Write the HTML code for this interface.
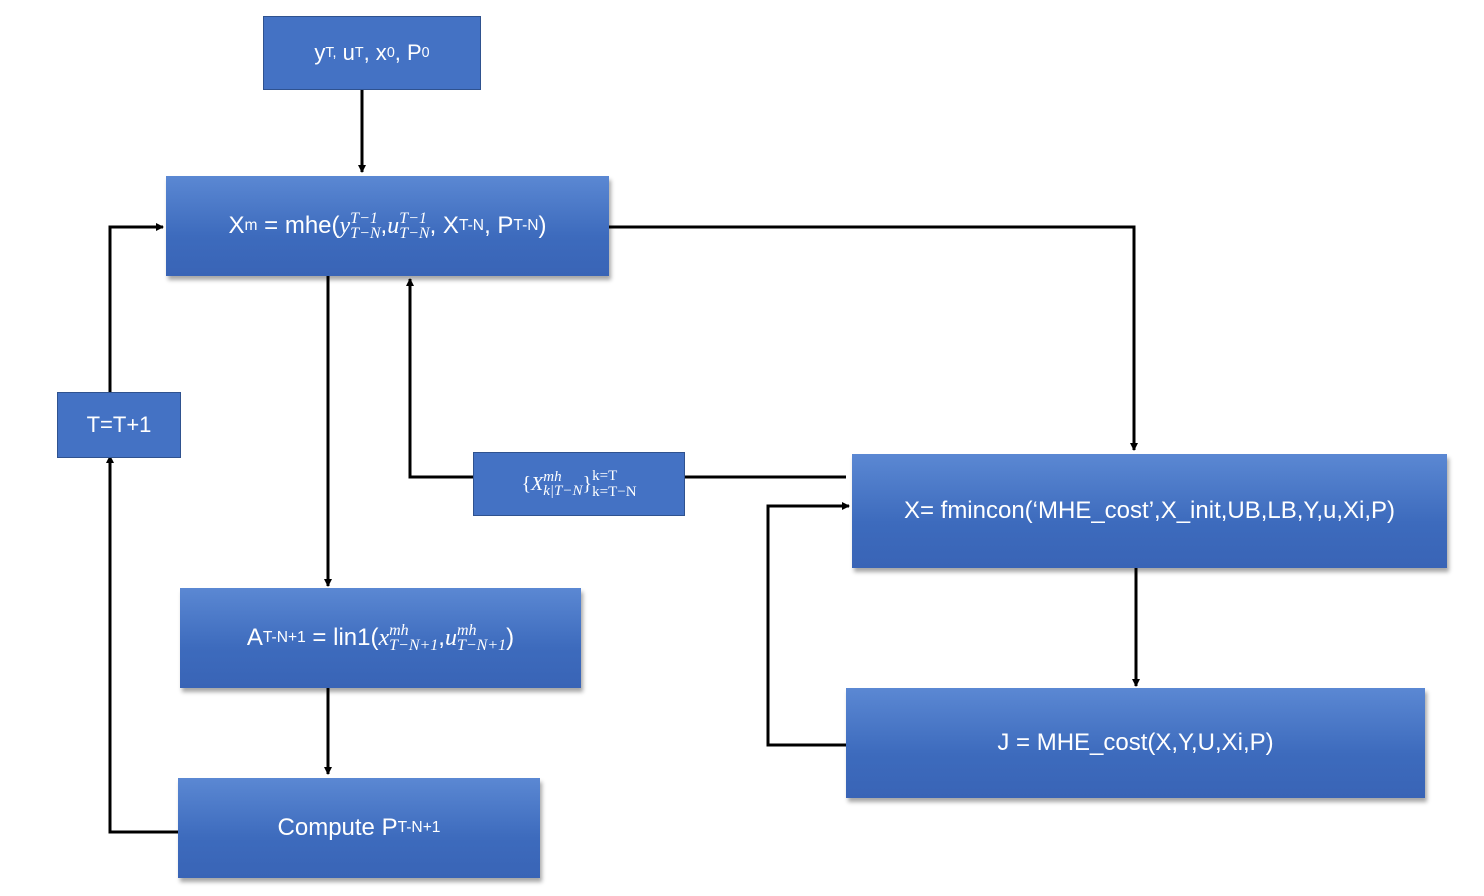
<!DOCTYPE html>
<html><head><meta charset="utf-8"><style>
body{margin:0;width:1484px;height:896px;background:#fff;position:relative;overflow:hidden;font-family:"Liberation Sans",sans-serif}
.b{position:absolute;display:flex;align-items:center;justify-content:center;color:#fff;box-sizing:border-box;white-space:nowrap}
.f{background:#4472c4;border:1.5px solid #2f528f}
.g{background:linear-gradient(#5b88d3,#3d6bbd 60%,#3964b6);box-shadow:2px 4px 4px rgba(0,0,0,0.35)}
i{font-family:"Liberation Serif",serif}
sub,sup{font-size:0.65em}
svg{position:absolute;left:0;top:0}
</style></head><body>
<svg width="1484" height="896">
<defs><marker id="a" markerWidth="8" markerHeight="8" refX="7" refY="4" orient="auto" markerUnits="userSpaceOnUse"><path d="M0,0L8,4L0,8z" fill="#000"/></marker></defs>
<g stroke="#000" stroke-width="3" fill="none">
<path d="M362 90V172" marker-end="url(#a)"/>
<path d="M609 227H1134V450" marker-end="url(#a)"/>
<path d="M328 276V586" marker-end="url(#a)"/>
<path d="M473 477H410V279" marker-end="url(#a)"/>
<path d="M685 477H846"/>
<path d="M1136 568V686" marker-end="url(#a)"/>
<path d="M852 745H768V506H849" marker-end="url(#a)"/>
<path d="M328 688V774" marker-end="url(#a)"/>
<path d="M178 832H110V456" marker-end="url(#a)"/>
<path d="M110 392V227H163" marker-end="url(#a)"/>
</g></svg>
<div class="b f" style="left:263px;top:16px;width:218px;height:74px;font-size:22px">y<sub>T,</sub>&nbsp;u<sub>T</sub>, x<sub>0</sub>, P<sub>0</sub></div>
<div class="b g" style="left:166px;top:176px;width:443px;height:100px;font-size:24px">X<sub>m</sub>&nbsp;= mhe(<i>y</i><span style="display:inline-flex;flex-direction:column;font-size:16px;line-height:15px"><i>T−1</i><i>T−N</i></span>, <i>u</i><span style="display:inline-flex;flex-direction:column;font-size:16px;line-height:15px"><i>T−1</i><i>T−N</i></span>, X<sub>T-N</sub>, P<sub>T-N</sub>)</div>
<div class="b f" style="left:57px;top:392px;width:124px;height:66px;font-size:22px">T=T+1</div>
<div class="b f" style="left:473px;top:452px;width:212px;height:64px;font-size:20px;font-family:'Liberation Serif',serif">{<i>X</i><span style="display:inline-flex;flex-direction:column;font-size:15px;line-height:14px"><i>mh</i><i>k|T−N</i></span>}<span style="display:inline-flex;flex-direction:column;font-size:15px;line-height:16px">k=T<br>k=T−N</span></div>
<div class="b g" style="left:852px;top:454px;width:595px;height:114px;font-size:24px">X= fmincon(‘MHE_cost’,X_init,UB,LB,Y,u,Xi,P)</div>
<div class="b g" style="left:180px;top:588px;width:401px;height:100px;font-size:24px">A<sub>T-N+1</sub>&nbsp;= lin1(<i>x</i><span style="display:inline-flex;flex-direction:column;font-size:16px;line-height:15px"><i>mh</i><i>T−N+1</i></span>,<i>u</i><span style="display:inline-flex;flex-direction:column;font-size:16px;line-height:15px"><i>mh</i><i>T−N+1</i></span>)</div>
<div class="b g" style="left:178px;top:778px;width:362px;height:100px;font-size:24px">Compute P<sub>T-N+1</sub></div>
<div class="b g" style="left:846px;top:688px;width:579px;height:110px;font-size:24px">J = MHE_cost(X,Y,U,Xi,P)</div>
</body></html>
